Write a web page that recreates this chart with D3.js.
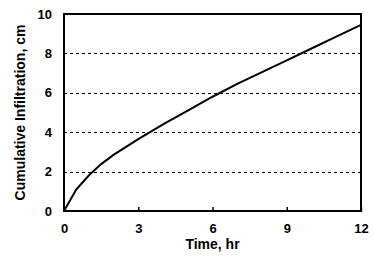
<!DOCTYPE html>
<html>
<head>
<meta charset="utf-8">
<script src="https://cdn.jsdelivr.net/npm/d3@7"></script>
<style>
  body { margin: 0; background: #fff; }
  text { font-family: "Liberation Sans", Arial, sans-serif; font-weight: bold; fill: #000; }
</style>
</head>
<body>
<div id="drawing-area"></div>
<script>
// values
var times = [0, 0.5, 1, 1.5, 2, 3, 4, 5, 6, 7, 8, 9, 10, 11, 12];
var infil = [0, 1.1, 1.8, 2.38, 2.85, 3.65, 4.4, 5.1, 5.8, 6.45, 7.05, 7.65, 8.25, 8.85, 9.45];
var xticks = [0, 3, 6, 9, 12];
var yticks = [0, 2, 4, 6, 8, 10];

function infiltration_chart() {
    var sx = 374, sy = 259;
    var svg = d3.select('#drawing-area').append('svg').attr('width', sx).attr('height', sy);

    var pl = 64, pr = 361, pt = 14, pb = 211;

    var x = d3.scaleLinear().domain([0, 12]).range([pl, pr]);
    var y = d3.scaleLinear().domain([0, 10]).range([pb, pt]);

    // dashed gridlines
    svg.append('g').selectAll('line').data(yticks.filter(function (d) { return d > 0 && d < 10; }))
        .enter().append('line')
        .attr('x1', pl).attr('x2', pr)
        .attr('y1', function (d) { return Math.round(y(d)) + 0.5; })
        .attr('y2', function (d) { return Math.round(y(d)) + 0.5; })
        .attr('stroke', '#000').attr('stroke-width', 1).attr('stroke-dasharray', '3,3');

    // x ticks point inward
    var xa = svg.append('g').attr('transform', 'translate(0,' + pb + ')')
        .call(d3.axisBottom(x).tickValues(xticks).tickSizeInner(-4).tickSizeOuter(0).tickPadding(13));
    xa.select('.domain').remove();
    xa.selectAll('line').attr('stroke', '#000').attr('stroke-width', 1.5);
    xa.selectAll('text').attr('font-size', 13).attr('font-family', 'Liberation Sans, Arial, sans-serif').attr('font-weight', 'bold');

    var ya = svg.append('g').attr('transform', 'translate(' + pl + ',0)')
        .call(d3.axisLeft(y).tickValues(yticks).tickSize(0).tickPadding(12));
    ya.select('.domain').remove();
    ya.selectAll('text').attr('font-size', 13).attr('font-family', 'Liberation Sans, Arial, sans-serif').attr('font-weight', 'bold');

    // plot frame
    svg.append('rect')
        .attr('x', pl).attr('y', pt)
        .attr('width', pr - pl).attr('height', pb - pt)
        .attr('fill', 'none').attr('stroke', '#000').attr('stroke-width', 2);

    // infiltration curve
    var line = d3.line()
        .x(function (d, i) { return x(times[i]); })
        .y(function (d) { return y(d); });
    svg.append('path').datum(infil)
        .attr('d', line)
        .attr('fill', 'none').attr('stroke', '#000').attr('stroke-width', 2);

    // axis titles
    svg.append('text')
        .attr('x', (pl + pr) / 2).attr('y', 249)
        .attr('text-anchor', 'middle').attr('font-size', 14)
        .text('Time, hr');

    svg.append('text')
        .attr('transform', 'translate(25,' + (pt + pb) / 2 + ') rotate(-90)')
        .attr('text-anchor', 'middle').attr('font-size', 14)
        .text('Cumulative Infiltration, cm');
}

infiltration_chart();
</script>
</body>
</html>
